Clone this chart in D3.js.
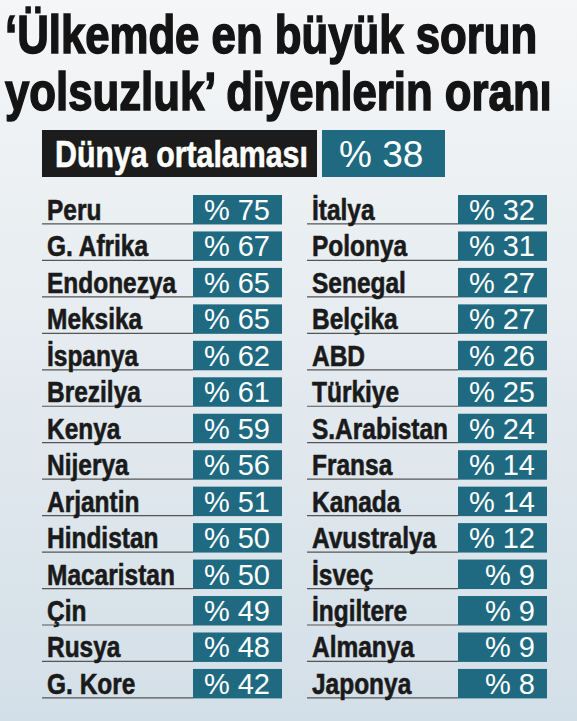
<!DOCTYPE html>
<html>
<head>
<meta charset="utf-8">
<script src="https://cdn.jsdelivr.net/npm/d3@7"></script>
<style>
  html, body { margin: 0; padding: 0; overflow: hidden; }
  .narrow { font-family: 'Liberation Sans', Arial, sans-serif; font-weight: bold; }
  .val { font-family: 'Liberation Sans', Arial, sans-serif; }
</style>
</head>
<body>
<div id="chart"></div>
<script>
// Title and header
const titleLines = ['\u2018Ülkemde en büyük sorun', 'yolsuzluk\u2019 diyenlerin oranı'];
const worldLabel = 'Dünya ortalaması';
const worldValue = 38;

// Left column
const leftCountries = ['Peru', 'G. Afrika', 'Endonezya', 'Meksika', 'İspanya', 'Brezilya', 'Kenya',
    'Nijerya', 'Arjantin', 'Hindistan', 'Macaristan', 'Çin', 'Rusya', 'G. Kore'];
const leftValues = [75, 67, 65, 65, 62, 61, 59, 56, 51, 50, 50, 49, 48, 42];

// Right column
const rightCountries = ['İtalya', 'Polonya', 'Senegal', 'Belçika', 'ABD', 'Türkiye', 'S.Arabistan',
    'Fransa', 'Kanada', 'Avustralya', 'İsveç', 'İngiltere', 'Almanya', 'Japonya'];
const rightValues = [32, 31, 27, 27, 26, 25, 24, 14, 14, 12, 9, 9, 9, 8];

const width = 577, height = 721;
const teal = '#1f6a81';
const squeeze = 0.81; // condensed look, no narrow font installed

const svg = d3.select('#chart')
    .append('svg')
    .attr('width', width)
    .attr('height', height);

// Background gradient
const grad = svg.append('defs').append('linearGradient')
    .attr('id', 'bg')
    .attr('x1', 0).attr('y1', 0).attr('x2', 0).attr('y2', 1);
grad.append('stop').attr('offset', '0%').attr('stop-color', '#f5f6f7');
grad.append('stop').attr('offset', '45%').attr('stop-color', '#e6ecf0');
grad.append('stop').attr('offset', '100%').attr('stop-color', '#d3dfe8');
svg.append('rect')
    .attr('width', width)
    .attr('height', height)
    .attr('fill', 'url(#bg)');

// Title
svg.selectAll('.title')
    .data(titleLines)
    .enter()
    .append('text')
    .attr('class', 'title narrow')
    .attr('transform', (d, i) => `translate(5,${53 + i * 57}) scale(${squeeze},1)`)
    .attr('fill', '#141414')
    .attr('stroke', '#141414')
    .attr('stroke-width', 1.6)
    .style('font-size', '54px')
    .text(d => d);

// World average header
svg.append('rect')
    .attr('x', 42).attr('y', 130)
    .attr('width', 275).attr('height', 47)
    .attr('fill', '#1c1c1c');
svg.append('rect')
    .attr('x', 322).attr('y', 130)
    .attr('width', 123).attr('height', 47)
    .attr('fill', teal);
svg.append('text')
    .attr('class', 'narrow')
    .attr('transform', `translate(55,167) scale(0.82,1)`)
    .attr('fill', '#fff')
    .attr('stroke', '#fff')
    .attr('stroke-width', 0.6)
    .style('font-size', '37px')
    .text(worldLabel);
svg.append('text')
    .attr('class', 'val')
    .attr('x', 339).attr('y', 167)
    .attr('fill', '#fff')
    .style('font-size', '37px')
    .text('% ' + worldValue);

// Rows
const columns = [
    {names: leftCountries, values: leftValues},
    {names: rightCountries, values: rightValues}
];

const colScale = d3.scaleBand()
    .domain([0, 1])
    .range([42, 572]);

const rowScale = d3.scaleBand()
    .domain(d3.range(leftCountries.length))
    .range([195, 698.4])
    .paddingInner(0.192);

const lineLen = 151, boxW = 89;

columns.forEach((col, c) => {
    const x0 = colScale(c);
    const rows = svg.append('g')
        .selectAll('.row')
        .data(col.names.map((n, i) => ({name: n, value: col.values[i], i: i})))
        .enter()
        .append('g')
        .attr('class', 'row')
        .attr('transform', d => `translate(${x0},${rowScale(d.i)})`);

    const bh = rowScale.bandwidth();

    // underline
    rows.append('line')
        .attr('x1', 0).attr('x2', lineLen)
        .attr('y1', bh - 0.5).attr('y2', bh - 0.5)
        .attr('stroke', '#555')
        .attr('stroke-width', 1.2);

    // value box
    rows.append('rect')
        .attr('x', lineLen)
        .attr('width', boxW)
        .attr('height', bh)
        .attr('fill', teal);

    // country name
    rows.append('text')
        .attr('class', 'narrow')
        .attr('transform', `translate(5,${bh - 4.5}) scale(0.83,1)`)
        .attr('fill', '#1a1a1a')
        .attr('stroke', '#1a1a1a')
        .attr('stroke-width', 0.6)
        .style('font-size', '29.5px')
        .text(d => d.name);

    // value label
    rows.append('text')
        .attr('class', 'val')
        .attr('x', lineLen + boxW - 12)
        .attr('y', bh - 4.5)
        .attr('text-anchor', 'end')
        .attr('fill', '#fff')
        .style('font-size', '29px')
        .text(d => '% ' + d.value);
});
</script>
</body>
</html>
